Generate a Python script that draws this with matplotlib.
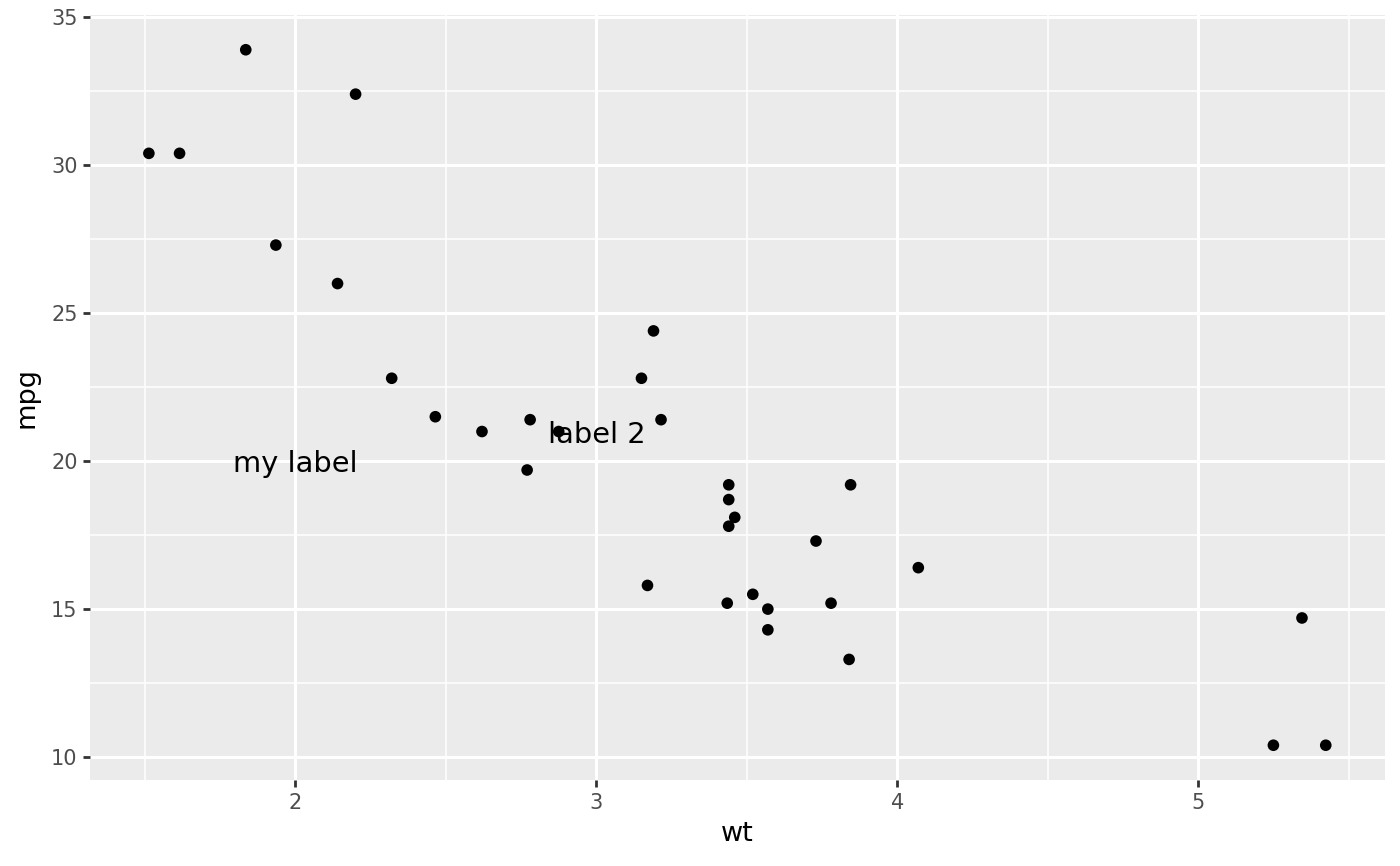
import matplotlib
matplotlib.use("Agg")
import matplotlib.pyplot as plt
import numpy as np

wt = [2.620, 2.875, 2.320, 3.215, 3.440, 3.460, 3.570, 3.190, 3.150, 3.440,
      3.440, 4.070, 3.730, 3.780, 5.250, 5.424, 5.345, 2.200, 1.615, 1.835,
      2.465, 3.520, 3.435, 3.840, 3.845, 1.935, 2.140, 1.513, 3.170, 2.770,
      3.570, 2.780]
mpg = [21.0, 21.0, 22.8, 21.4, 18.7, 18.1, 14.3, 24.4, 22.8, 19.2,
       17.8, 16.4, 17.3, 15.2, 10.4, 10.4, 14.7, 32.4, 30.4, 33.9,
       21.5, 15.5, 15.2, 13.3, 19.2, 27.3, 26.0, 30.4, 15.8, 19.7,
       15.0, 21.4]
labels = ["my label", "label 2"]
label_x = [2, 3]
label_y = [20, 21]

fig = plt.figure(figsize=(14, 8.66), dpi=100)
ax = fig.add_axes([0.0643, 0.0993, 0.9247, 0.8834])
ax.set_facecolor("#EBEBEB")
for s in ax.spines.values():
    s.set_visible(False)

xmin, xmax = min(wt), max(wt)
ymin, ymax = min(mpg), max(mpg)
px = (xmax - xmin) * 0.05
py = (ymax - ymin) * 0.05
ax.set_xlim(xmin - px, xmax + px)
ax.set_ylim(ymin - py, ymax + py)

ax.set_xticks([2, 3, 4, 5])
ax.set_yticks([10, 15, 20, 25, 30, 35])
ax.set_xticks([1.5, 2.5, 3.5, 4.5, 5.5], minor=True)
ax.set_yticks([12.5, 17.5, 22.5, 27.5, 32.5], minor=True)
ax.grid(which="major", color="white", linewidth=2.2)
ax.grid(which="minor", color="white", linewidth=1.1)
ax.set_axisbelow(True)
ax.tick_params(which="major", length=5, width=2, color="#333333",
               labelsize=15, labelcolor="#4D4D4D", pad=4)
ax.tick_params(which="minor", length=0)

ax.scatter(wt, mpg, s=70, color="black", edgecolors="none", zorder=3)
for t, x, y in zip(labels, label_x, label_y):
    ax.text(x, y, t, ha="center", va="center_baseline", fontsize=20.8,
            color="black", zorder=4)

ax.set_xlabel("wt", fontsize=19.5, labelpad=6)
ax.set_ylabel("mpg", fontsize=19.5, labelpad=8)

fig.savefig("out.png", dpi=100)
